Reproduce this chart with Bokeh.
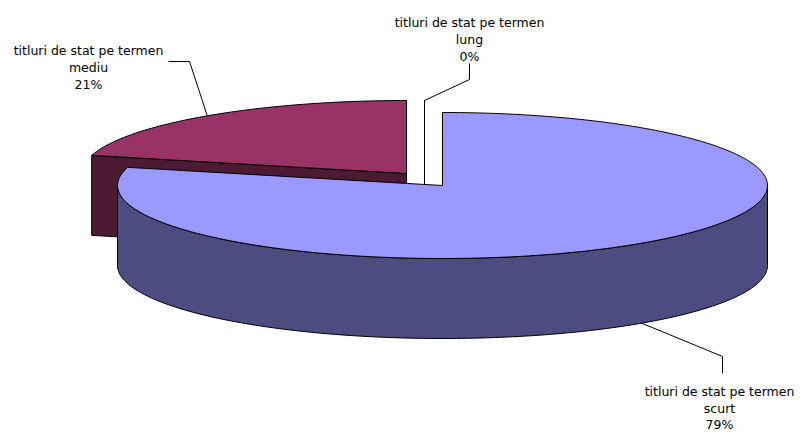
import numpy as np
from bokeh.plotting import figure
from bokeh.models import Range1d
from bokeh.embed import file_html
from bokeh.resources import INLINE
from bokeh.core.properties import value

# ---------------- data ----------------
categories = ["titluri de stat pe termen scurt",
              "titluri de stat pe termen mediu",
              "titluri de stat pe termen lung"]
name_lines = [["titluri de stat pe termen", "scurt"],
              ["titluri de stat pe termen", "mediu"],
              ["titluri de stat pe termen", "lung"]]
shares = [79, 21, 0]
pct_labels = ["79%", "21%", "0%"]

# ---------------- styles / layout (reference pixel space, y down) ----------------
top_colors = ["#9999FF", "#993366", "#FFFFCC"]
side_colors = ["#4C4C80", "#4D1A33", "#80806A"]
centers = [(442, 185), (406, 173), (424, 173)]     # exploded slice centres
RX, RY, DEPTH = 325, 73, 80
label_anchor = [(719, 391), (88, 49.5), (469, 22)]  # first-line baseline
line_gaps = [16.5, 17.0, 17.0]
elbows = [[(722, 356), (722, 373)], [(189, 61), (168, 61)], [(469, 79), (469, 63)]]
FONT = value("DejaVu Sans")
FONT_SIZE = "12.5px"

p = figure(width=800, height=432, x_range=Range1d(0, 800), y_range=Range1d(432, 0),
           output_backend="svg", toolbar_location=None, min_border=0)
p.axis.visible = False
p.grid.visible = False
p.outline_line_color = None
p.background_fill_color = "white"
p.border_fill_color = "white"


def rim(c, a_deg, dy=0.0):
    a = np.radians(a_deg)
    return c[0] + RX * np.cos(a), c[1] - RY * np.sin(a) + dy


def arc(c, a_from, a_to, dy=0.0, n=None):
    if n is None:
        n = max(2, int(abs(a_to - a_from)) + 2)
    angs = np.linspace(a_from, a_to, n)
    xs, ys = rim(c, angs, dy)
    return list(xs), list(ys)


total = float(sum(shares))
slices = []
cum = 0.0
for i, s in enumerate(shares):
    a0 = 90 - cum / total * 360.0
    cum += s
    a1 = 90 - cum / total * 360.0
    slices.append((i, a0, a1))

# painter's order: slices at the back first
order = sorted(slices, key=lambda t: -np.sin(np.radians((t[1] + t[2]) / 2)))

for i, a0, a1 in order:
    c = centers[i]
    # radial (cut) faces
    for edge, normal in ((a0, a0 + 90), (a1, a1 - 90)):
        if np.sin(np.radians(normal)) <= 1e-9:
            rx_, ry_ = rim(c, edge)
            xs = [rx_, c[0], c[0], rx_]
            ys = [ry_, c[1], c[1] + DEPTH, ry_ + DEPTH]
            p.patch(xs, ys, fill_color=side_colors[i], line_color="black", line_width=1)
    # curved front side
    for k in range(-2, 2):
        lo = max(a1, -180 + 360 * k)
        hi = min(a0, 0 + 360 * k)
        if hi > lo:
            tx, ty = arc(c, lo, hi)
            bx, by = arc(c, hi, lo, DEPTH)
            p.patch(tx + bx, ty + by, fill_color=side_colors[i], line_color="black", line_width=1)
    # top face
    ax, ay = arc(c, a0, a1)
    p.patch([c[0]] + ax + [c[0]], [c[1]] + ay + [c[1]], fill_color=top_colors[i],
            line_color="black", line_width=1)

# leader lines and labels
for i, a0, a1 in slices:
    c = centers[i]
    m = (a0 + a1) / 2
    if np.sin(np.radians(m)) < 0:
        sx, sy = rim(c, m, DEPTH)
    else:
        sx, sy = rim(c, m)
    lx = [sx] + [e[0] for e in elbows[i]]
    ly = [sy] + [e[1] for e in elbows[i]]
    p.line(lx, ly, line_color="black", line_width=1)
    lines = name_lines[i] + [pct_labels[i]]
    x0, y0 = label_anchor[i]
    p.text(x=[x0] * len(lines), y=[y0 + line_gaps[i] * j for j in range(len(lines))], text=lines,
           text_font=FONT, text_font_size=FONT_SIZE, text_align="center",
           text_baseline="alphabetic", text_color="#000000")

open("out.html", "w").write(file_html(p, INLINE))
